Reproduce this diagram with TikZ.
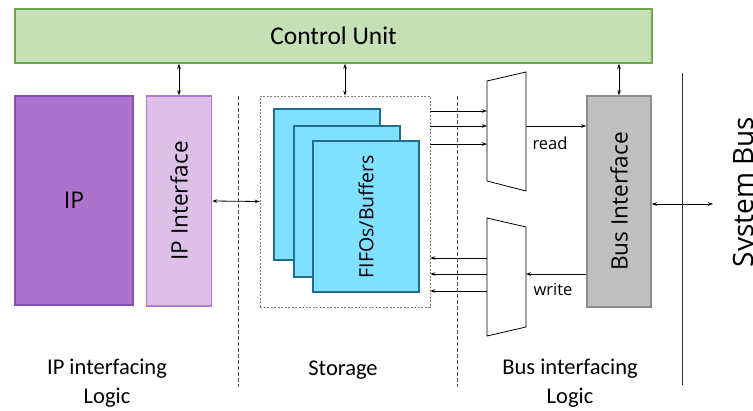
\documentclass[tikz,border=0pt]{standalone}
\usepackage{fontspec}
\setmainfont{Carlito}
\newfontfamily\osans{Open Sans}
\usetikzlibrary{arrows.meta}
\definecolor{cufill}{RGB}{197,224,180}
\definecolor{culine}{RGB}{106,168,72}
\definecolor{ipfill}{RGB}{172,114,204}
\definecolor{ipline}{RGB}{138,76,180}
\definecolor{ipifill}{RGB}{221,192,232}
\definecolor{ipiline}{RGB}{178,122,212}
\definecolor{fifofill}{RGB}{128,224,255}
\definecolor{fifoline}{RGB}{30,110,140}
\definecolor{busfill}{RGB}{191,191,191}
\definecolor{busline}{RGB}{140,140,140}
\tikzset{
  block/.style={draw, line width=1.5pt, inner sep=0pt},
  cubox/.style={block, fill=cufill, draw=culine, minimum width=637, minimum height=54, font=\fontsize{25.5}{29}\selectfont},
  ipbox/.style={block, fill=ipfill, draw=ipline, minimum width=118, minimum height=209, font=\osans\fontsize{23}{27}\selectfont},
  ipibox/.style={block, fill=ipifill, draw=ipiline, minimum width=65, minimum height=210},
  fifobox/.style={block, fill=fifofill, draw=fifoline, minimum width=106, minimum height=151},
  busbox/.style={block, fill=busfill, draw=busline, minimum width=64, minimum height=211},
  storebox/.style={draw=gray, line width=0.7pt, dash pattern=on 2pt off 1.5pt, minimum width=170, minimum height=211, inner sep=0pt},
  vlabel/.style={rotate=90, font=\osans\fontsize{22.6}{26}\selectfont},
  mux/.style={draw, line width=0.8pt, fill=white},
  wire/.style={line width=0.8pt, -{Stealth[length=5pt,width=3.5pt]}},
  biwire/.style={line width=0.8pt, {Stealth[length=5pt,width=3.5pt]}-{Stealth[length=5pt,width=3.5pt]}},
  divider/.style={draw=black!70, line width=0.6pt, dash pattern=on 4pt off 2pt},
  caption/.style={align=center, font=\fontsize{22.5}{29}\selectfont},
  sig/.style={font=\osans\fontsize{16.5}{20}\selectfont}
}
\begin{document}
\begin{tikzpicture}[x=1pt,y=-1pt]
\useasboundingbox (0,0) rectangle (753,410);

% main blocks
\node[cubox] (cu) at (333.5,36) {Control Unit};
\node[ipbox] (ip) at (74,200.5) {IP};
\node[ipibox] (ipi) at (179,201) {};
\node[vlabel] at (ipi.center) {IP Interface};

\node[storebox] (stor) at (345,201.5) {};
\node[fifobox] (f1) at (327,184.5) {};
\node[fifobox] (f2) at (347,201.5) {};
\node[fifobox] (f3) at (366,216.5) {};
\node[vlabel, font=\osans\fontsize{19.5}{23}\selectfont] at (f3.center) {FIFOs/Buffers};

\node[busbox] (bus) at (619,201.5) {};
\node[vlabel] at (bus.center) {Bus Interface};

% multiplexers
\draw[mux] (487,81) coordinate (rdA) -- (526,72) -- (526,191) -- (487,181) -- cycle;
\draw[mux] (487,218) coordinate (wrA) -- (526,227) -- (526,327) -- (487,336) -- cycle;
\coordinate (rdin) at (487,0);
\coordinate (rdout) at (526,0);
\coordinate (wrin) at (526,0);
\coordinate (wrout) at (487,0);

% control connections
\draw[biwire] (cu.south -| ipi.north) -- (ipi.north);
\draw[biwire] (cu.south -| stor.north) -- (stor.north);
\draw[biwire] (cu.south -| bus.north) -- (bus.north);

% data paths
\draw[biwire] (ipi.east) -- (stor.west);
\foreach \y in {111,126,144} \draw[wire] (stor.east |- 0,\y) -- (rdin |- 0,\y);
\draw[wire] (rdout |- 0,126) -- (bus.west |- 0,126);
\draw[wire] (bus.west |- 0,274) -- (wrin |- 0,274);
\foreach \y in {258,274,291} \draw[wire] (wrout |- 0,\y) -- (stor.east |- 0,\y);
\coordinate (sysbus) at (713,204);
\draw[biwire] (bus.east |- sysbus) -- (sysbus);

\node[sig] at (550,143) {read};
\node[sig] at (553,290) {write};

% region separators
\draw[divider] (238,96) -- (238,387);
\draw[divider] (457,96) -- (457,387);
\draw[line width=0.7pt, black!80] (682,73) -- (682,385);

% captions
\node[caption] at (107,383) {IP interfacing\\Logic};
\node[caption] at (343,370) {Storage};
\node[caption] at (570,383) {Bus interfacing\\Logic};
\node[rotate=90, anchor=base, font=\osans\fontsize{28}{32}\selectfont] at (753,192) {System Bus};
\end{tikzpicture}
\end{document}
